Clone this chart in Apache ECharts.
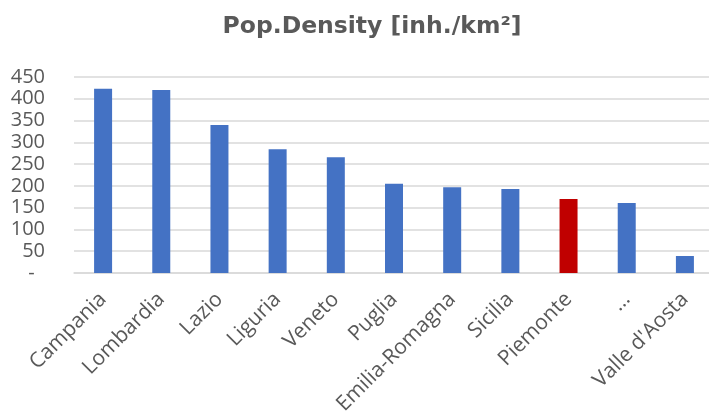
<!DOCTYPE html>
<html><head><meta charset="utf-8">
<script src="https://cdn.jsdelivr.net/npm/echarts@6/dist/echarts.min.js"></script>
<style>html,body{margin:0;padding:0;background:#fff}#c{width:709px;height:415px}</style>
</head><body><div id="c"></div>
<script>
const categories = ['Campania','Lombardia','Lazio','Liguria','Veneto','Puglia','Emilia-Romagna','Sicilia','Piemonte','…',"Valle d'Aosta"];
const density = [423, 420, 340, 284, 266, 205, 197, 193, 170, 161, 39];
const highlighted = ['Piemonte'];
const yTicks = [0, 50, 100, 150, 200, 250, 300, 350, 400, 450];

const chart = echarts.init(document.getElementById('c'), null, {renderer:'canvas'});
const font = '"Open Sans", sans-serif';
chart.setOption({
  animation: false,
  title: {
    text: 'Pop.Density [inh./km²]',
    left: 367, top: 10, textAlign: 'center',
    textStyle: {fontFamily: '"DejaVu Sans", sans-serif', fontWeight: 'bold', fontSize: 23.5, color: '#595959'}
  },
  grid: {left: 74, right: -5, top: 77, bottom: 142, containLabel: false, outerBoundsMode: 'none'},
  xAxis: {
    type: 'category', data: categories,
    axisTick: {show: false},
    axisLine: {lineStyle: {color: '#d9d9d9', width: 1.5}},
    axisLabel: {rotate: 45, interval: 0, margin: 23, fontFamily: font, fontSize: 21, color: '#595959'}
  },
  yAxis: {
    type: 'value', min: yTicks[0], max: yTicks[yTicks.length-1], interval: yTicks[1]-yTicks[0],
    axisLine: {show: false}, axisTick: {show: false},
    splitLine: {lineStyle: {color: '#d9d9d9', width: 1.5}},
    axisLabel: {margin: 29, fontFamily: font, fontSize: 20, color: '#595959',
      formatter: v => v === 0 ? '-  ' : String(v)}
  },
  series: [{
    type: 'bar', barWidth: 18,
    data: categories.map((c, i) => ({
      value: density[i],
      itemStyle: {color: highlighted.includes(c) ? '#C00000' : '#4472C4'}
    }))
  }]
});
</script></body></html>
